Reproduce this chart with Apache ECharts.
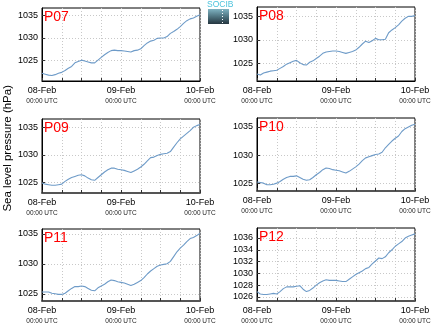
<!DOCTYPE html>
<html><head><meta charset="utf-8">
<script src="https://cdn.jsdelivr.net/npm/echarts@6/dist/echarts.min.js"></script>
<style>html,body{margin:0;padding:0;background:#fff}#c{width:434px;height:327px}</style>
</head><body><div id="c"></div>
<script>
const hours = [0,1,2,3,4,5,6,7,8,9,10,11,12,13,14,15,16,17,18,19,20,21,22,23,24,25,26,27,28,29,30,31,32,33,34,35,36,37,38,39,40,41,42,43,44,45,46,47,48];
const dayLabels = {0:'08-Feb', 24:'09-Feb', 48:'10-Feb'};
const timeLabel = '00:00 UTC';
const stations = ['P07','P08','P09','P10','P11','P12'];

const p07 = [1022.2,1022.0,1021.8,1021.7,1021.9,1022.2,1022.4,1022.8,1023.3,1023.7,1024.5,1024.8,1025.1,1024.9,1024.7,1024.5,1024.5,1025.1,1025.7,1026.3,1026.8,1027.2,1027.3,1027.2,1027.2,1027.1,1027.0,1026.9,1027.2,1027.3,1027.6,1028.3,1028.9,1029.3,1029.5,1029.9,1030.0,1030.0,1030.3,1031.0,1031.4,1031.9,1032.5,1033.2,1033.8,1034.2,1034.4,1034.8,1035.1];
const p08 = [1022.7,1022.5,1022.9,1023.1,1023.3,1023.4,1023.5,1023.9,1024.3,1024.8,1025.1,1025.4,1025.6,1025.1,1024.7,1024.6,1025.2,1025.5,1026.0,1026.5,1027.1,1027.4,1027.5,1027.6,1027.6,1027.5,1027.3,1027.1,1027.3,1027.5,1027.8,1028.4,1029.1,1029.7,1029.4,1029.8,1030.3,1030.0,1030.0,1030.1,1031.5,1032.1,1032.6,1033.2,1034.0,1034.6,1035.0,1035.0,1035.2];
const p09 = [1024.9,1024.7,1024.6,1024.5,1024.5,1024.6,1024.7,1025.2,1025.6,1025.9,1026.1,1026.3,1026.4,1026.2,1025.8,1025.5,1025.4,1025.9,1026.4,1026.9,1027.3,1027.6,1027.6,1027.4,1027.3,1027.2,1027.0,1026.8,1027.1,1027.4,1027.8,1028.3,1028.9,1029.5,1029.6,1029.9,1030.1,1030.2,1030.3,1030.6,1031.4,1032.2,1032.9,1033.4,1033.9,1034.4,1035.0,1035.3,1035.5];
const p10 = [1025.2,1025.1,1025.0,1024.7,1024.7,1024.8,1025.0,1025.3,1025.7,1026.0,1026.2,1026.2,1026.3,1026.0,1025.7,1025.5,1025.6,1026.0,1026.5,1026.9,1027.4,1027.7,1027.6,1027.4,1027.3,1027.2,1027.0,1026.8,1027.1,1027.5,1027.9,1028.4,1029.0,1029.5,1029.7,1029.9,1030.1,1030.2,1030.5,1031.3,1031.9,1032.5,1033.0,1033.4,1034.2,1034.7,1035.0,1035.3,1035.5];
const p11 = [1025.3,1025.3,1025.3,1025.1,1025.0,1024.9,1024.9,1025.1,1025.5,1025.9,1026.2,1026.2,1026.3,1026.2,1025.9,1025.6,1025.5,1026.0,1026.3,1026.6,1027.0,1027.3,1027.2,1027.0,1026.9,1026.8,1026.6,1026.4,1026.6,1026.9,1027.2,1027.7,1028.3,1028.8,1029.2,1029.6,1029.8,1029.9,1030.0,1030.4,1031.2,1032.0,1032.6,1033.1,1033.7,1034.2,1034.4,1034.7,1035.1];
const p12 = [1026.9,1026.5,1026.4,1026.4,1026.5,1026.6,1026.5,1026.9,1027.4,1027.7,1027.7,1027.7,1027.8,1027.9,1027.3,1026.9,1027.1,1027.5,1028.0,1028.4,1028.7,1028.9,1028.8,1028.8,1028.8,1028.7,1028.6,1028.6,1029.0,1029.4,1029.8,1030.1,1030.4,1030.8,1031.0,1031.6,1032.1,1032.6,1032.5,1032.8,1033.5,1034.0,1034.6,1035.0,1035.4,1036.0,1036.3,1036.5,1036.7];
const seriesValues = [p07,p08,p09,p10,p11,p12];

const yTickValues = [
  [1025,1030,1035],[1025,1030,1035],[1025,1030,1035],
  [1025,1030,1035],[1025,1030,1035],[1026,1028,1030,1032,1034,1036]
];
const yMin = [1020.5,1021.2,1023.1,1023.6,1023.8,1025.3];
const yMax = [1036.6,1037.0,1036.5,1036.6,1035.8,1037.7];

const layout = [
  {left:42, top:8, width:158, height:73},
  {left:257, top:7, width:158, height:74},
  {left:42, top:119, width:158, height:74},
  {left:257, top:118, width:158, height:73},
  {left:42, top:229, width:158, height:72},
  {left:257, top:228, width:158, height:73}
];
const FONT = 'Liberation Sans, Arial, sans-serif';

const grid = [], xAxis = [], yAxis = [], series = [], title = [];
stations.forEach((name, i) => {
  const g = layout[i];
  const thick = i >= 2;
  grid.push({left:g.left, top:g.top, width:g.width, height:g.height, show:true, borderColor:'#000', borderWidth:1, backgroundColor:'#fff'});
  xAxis.push({
    type:'value', gridIndex:i, min:0, max:48, interval:6,
    axisLine:{show:true, onZero:false, lineStyle:{color: thick ? '#555' : '#000', width: thick ? 2 : 1}},
    axisTick:{show:true, inside:true, length:3, lineStyle:{color:'#333', width:1}},
    splitLine:{show:true, lineStyle:{color:'#c8c8c8', type:[1,2], width:1}},
    axisLabel:{
      margin:4, fontFamily:FONT, color:'#000', showMinLabel:true, showMaxLabel:true,
      formatter: v => dayLabels[v] ? '{a|' + dayLabels[v] + '}\n{b|' + timeLabel + '}' : '',
      rich:{a:{fontSize:9, fontFamily:FONT, color:'#000', lineHeight:11}, b:{fontSize:6.5, fontFamily:FONT, color:'#222', lineHeight:10}}
    }
  });
  yAxis.push({
    type:'value', gridIndex:i, min:yMin[i], max:yMax[i],
    axisLine:{show:true, lineStyle:{color:'#000', width:1}},
    axisTick:{show:true, inside:true, length:3, customValues:yTickValues[i], lineStyle:{color:'#333'}},
    splitLine:{show:true, lineStyle:{color:'#c8c8c8', type:[1,2], width:1}},
    axisLabel:{customValues:yTickValues[i], formatter: v => String(v), fontSize:9, fontFamily:FONT, color:'#000', margin:4}
  });
  series.push({
    type:'line', xAxisIndex:i, yAxisIndex:i, showSymbol:false, silent:true,
    data: hours.map((h, k) => [h, seriesValues[i][k]]),
    lineStyle:{color:'#6e9bc8', width:1.1}
  });
  title.push({
    text:name, left:g.left + 2, top:g.top + 2, padding:0,
    textStyle:{color:'#ff0000', fontSize:14, fontWeight:'normal', fontFamily:FONT}
  });
});

const chart = echarts.init(document.getElementById('c'), null, {renderer:'canvas'});
chart.setOption({
  animation:false,
  backgroundColor:'#fff',
  title, grid, xAxis, yAxis, series,
  graphic:[
    {type:'text', left:2, top:85, rotation:Math.PI/2,
     style:{text:'Sea level pressure (hPa)', fontSize:11.5, fontFamily:FONT, fill:'#000'}},
    {type:'text', left:207, top:0, style:{text:'SOCIB', fontSize:8.5, fontFamily:FONT, fill:'#4cc3dc'}},
    {type:'rect', left:208, top:9, shape:{width:21, height:15},
     style:{fill:new echarts.graphic.LinearGradient(0,0,0,1,[{offset:0,color:'#7fb3c2'},{offset:0.5,color:'#4f7480'},{offset:1,color:'#253640'}])}},
    {type:'line', shape:{x1:222.5, y1:10, x2:222.5, y2:23}, style:{stroke:'#fff', lineWidth:1, lineDash:[1,2]}}
  ]
});
</script></body></html>
